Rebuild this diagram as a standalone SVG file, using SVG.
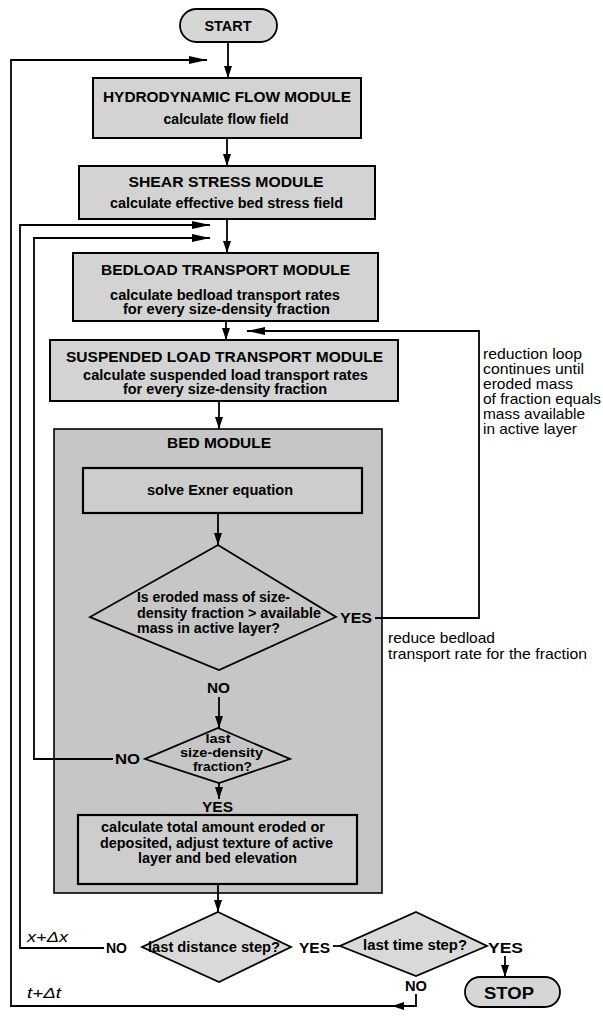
<svg xmlns="http://www.w3.org/2000/svg" width="603" height="1017" viewBox="0 0 603 1017">
<style>
.bx{fill:#d3d3d3;stroke:#000;stroke-width:2}
.bed{fill:#c6c6c6;stroke:#000;stroke-width:1.6}
.inb{fill:#cdcdcd;stroke:#000;stroke-width:2.2}
.dm{fill:#c6c6c6;stroke:#000;stroke-width:1.8}
.dmo{fill:#d9d9d9;stroke:#000;stroke-width:1.8}
.pill{fill:#d6d6d6;stroke:#000;stroke-width:1.8}
.c{fill:none;stroke:#000;stroke-width:1.8}
text{font-family:"Liberation Sans",Arial,Helvetica,sans-serif;fill:#000}
.t{font-weight:bold;font-size:15px;text-anchor:middle}
.s{font-weight:bold;font-size:14px;text-anchor:middle}
.d{font-weight:bold;font-size:12.5px;text-anchor:middle}
.l{font-weight:bold;font-size:14px}
.n{font-size:14.5px}
.i{font-style:italic;font-size:15px}
</style>
<defs>
<marker id="ah" viewBox="0 0 12 8" refX="12" refY="4" markerWidth="12" markerHeight="8" markerUnits="userSpaceOnUse" orient="auto">
<path d="M0,0 L12,4 L0,8 Z" fill="#000"/>
</marker>
<marker id="ahl" viewBox="0 0 18 8" refX="18" refY="4" markerWidth="18" markerHeight="8" markerUnits="userSpaceOnUse" orient="auto">
<path d="M0,0 L18,4 L0,8 Z" fill="#000"/>
</marker>
</defs>

<g id="start">
<rect class="pill" x="180" y="9" width="97" height="33" rx="16.5"/>
<text class="t" x="228" y="31" textLength="47" lengthAdjust="spacingAndGlyphs">START</text>
</g>

<g id="hydro">
<rect class="bx" x="93" y="78" width="268" height="60"/>
<text class="t" x="227" y="102" textLength="248" lengthAdjust="spacingAndGlyphs">HYDRODYNAMIC FLOW MODULE</text>
<text class="s" x="226" y="124" textLength="125" lengthAdjust="spacingAndGlyphs">calculate flow field</text>
</g>

<g id="shear">
<rect class="bx" x="79" y="166" width="296" height="53"/>
<text class="t" x="226" y="187" textLength="195" lengthAdjust="spacingAndGlyphs">SHEAR STRESS MODULE</text>
<text class="s" x="226.5" y="208" textLength="233" lengthAdjust="spacingAndGlyphs">calculate effective bed stress field</text>
</g>

<g id="bedload">
<rect class="bx" x="73" y="253" width="305" height="68"/>
<text class="t" x="225.5" y="275" textLength="249" lengthAdjust="spacingAndGlyphs">BEDLOAD TRANSPORT MODULE</text>
<text class="s" x="225" y="300" textLength="230" lengthAdjust="spacingAndGlyphs">calculate bedload transport rates</text>
<text class="s" x="226.5" y="314" textLength="207" lengthAdjust="spacingAndGlyphs">for every size-density fraction</text>
</g>

<g id="suspended">
<rect class="bx" x="50" y="340" width="348" height="61"/>
<text class="t" x="224.5" y="362" textLength="317" lengthAdjust="spacingAndGlyphs">SUSPENDED LOAD TRANSPORT MODULE</text>
<text class="s" x="225.5" y="380" textLength="285" lengthAdjust="spacingAndGlyphs">calculate suspended load transport rates</text>
<text class="s" x="225" y="394" textLength="204" lengthAdjust="spacingAndGlyphs">for every size-density fraction</text>
</g>

<g id="bedmodule">
<rect class="bed" x="54" y="429" width="328" height="464"/>
<text class="t" x="219" y="448" textLength="104" lengthAdjust="spacingAndGlyphs">BED MODULE</text>
</g>

<g id="exner">
<rect class="inb" x="83" y="468" width="279" height="45"/>
<text class="s" x="220" y="495" textLength="146" lengthAdjust="spacingAndGlyphs">solve Exner equation</text>
</g>

<g id="decision-eroded">
<polygon class="dm" points="218,545 336,617 219,670 90,617"/>
<text class="l" x="137" y="602" textLength="153" lengthAdjust="spacingAndGlyphs">Is eroded mass of size-</text>
<text class="l" x="137" y="618" textLength="184" lengthAdjust="spacingAndGlyphs">density fraction &gt; available</text>
<text class="l" x="137" y="633" textLength="143" lengthAdjust="spacingAndGlyphs">mass in active layer?</text>
</g>

<g id="decision-last-fraction">
<polygon class="dm" points="218,728 290,759 219,783 145,759"/>
<text class="d" x="218" y="743" textLength="25" lengthAdjust="spacingAndGlyphs">last</text>
<text class="d" x="221.5" y="757" textLength="83" lengthAdjust="spacingAndGlyphs">size-density</text>
<text class="d" x="222.5" y="771" textLength="59" lengthAdjust="spacingAndGlyphs">fraction?</text>
</g>

<g id="adjust">
<rect class="inb" x="78" y="815" width="279" height="69"/>
<text class="s" x="213" y="832" textLength="224" lengthAdjust="spacingAndGlyphs">calculate total amount eroded or</text>
<text class="s" x="216.5" y="848" textLength="233" lengthAdjust="spacingAndGlyphs">deposited, adjust texture of active</text>
<text class="s" x="217.5" y="863" textLength="159" lengthAdjust="spacingAndGlyphs">layer and bed elevation</text>
</g>

<g id="decision-distance">
<polygon class="dmo" points="218,912 291,947 219,982 142,947"/>
<text class="s" x="214" y="952" textLength="132" lengthAdjust="spacingAndGlyphs">last distance step?</text>
</g>

<g id="decision-time">
<polygon class="dmo" points="416,912 487,946 416,976 340,946"/>
<text class="s" x="415" y="950" textLength="104" lengthAdjust="spacingAndGlyphs">last time step?</text>
</g>

<g id="stop">
<rect class="pill" x="465" y="977" width="95" height="30" rx="15"/>
<text class="t" x="509" y="999" style="font-size:17px" textLength="50" lengthAdjust="spacingAndGlyphs">STOP</text>
</g>

<g id="connectors">
<line class="c" x1="228" y1="42" x2="228" y2="78" marker-end="url(#ah)"/>
<line class="c" x1="227" y1="138" x2="227" y2="166" marker-end="url(#ah)"/>
<line class="c" x1="227" y1="219" x2="227" y2="253" marker-end="url(#ah)"/>
<line class="c" x1="226" y1="321" x2="226" y2="340" marker-end="url(#ah)"/>
<line class="c" x1="219" y1="401" x2="219" y2="429" marker-end="url(#ah)"/>
<line class="c" x1="218" y1="513" x2="218" y2="545" marker-end="url(#ah)"/>
<line class="c" x1="219" y1="697" x2="219" y2="728" marker-end="url(#ah)"/>
<line class="c" x1="219" y1="783" x2="219" y2="799" marker-end="url(#ah)"/>
<line class="c" x1="218" y1="884" x2="218" y2="912" marker-end="url(#ah)"/>
<polyline class="c" points="375,618 479,618 479,331 247,331" marker-end="url(#ahl)"/>
<polyline class="c" points="113,759 34,759 34,238 210,238" marker-end="url(#ahl)"/>
<polyline class="c" points="104,948 20,948 20,225 210,225" marker-end="url(#ahl)"/>
<line class="c" x1="333" y1="946" x2="340" y2="946"/>
<line class="c" x1="505" y1="956" x2="505" y2="977" marker-end="url(#ah)"/>
<polyline class="c" points="416,994 416,1006 392,1006" marker-end="url(#ah)"/>
<polyline class="c" points="392,1006 11,1006 11,60 207,60" marker-end="url(#ahl)"/>
</g>

<g id="labels">
<text class="l" x="340" y="623" textLength="32" lengthAdjust="spacingAndGlyphs">YES</text>
<text class="l" x="207" y="693" textLength="23" lengthAdjust="spacingAndGlyphs">NO</text>
<text class="l" x="115" y="764" textLength="25" lengthAdjust="spacingAndGlyphs">NO</text>
<text class="l" x="202" y="812" textLength="31" lengthAdjust="spacingAndGlyphs">YES</text>
<text class="l" x="106" y="953" textLength="21" lengthAdjust="spacingAndGlyphs">NO</text>
<text class="l" x="299" y="953" textLength="31" lengthAdjust="spacingAndGlyphs">YES</text>
<text class="l" x="488" y="953" textLength="35" lengthAdjust="spacingAndGlyphs">YES</text>
<text class="l" x="405" y="991" textLength="22" lengthAdjust="spacingAndGlyphs">NO</text>
<text class="i" x="27" y="942" textLength="41" lengthAdjust="spacingAndGlyphs">x+Δx</text>
<text class="i" x="27" y="998" textLength="34" lengthAdjust="spacingAndGlyphs">t+Δt</text>
<text class="n" x="483" y="359" textLength="99" lengthAdjust="spacingAndGlyphs">reduction loop</text>
<text class="n" x="483" y="374" textLength="101" lengthAdjust="spacingAndGlyphs">continues until</text>
<text class="n" x="483" y="389" textLength="90" lengthAdjust="spacingAndGlyphs">eroded mass</text>
<text class="n" x="483" y="404" textLength="118" lengthAdjust="spacingAndGlyphs">of fraction equals</text>
<text class="n" x="483" y="419" textLength="102" lengthAdjust="spacingAndGlyphs">mass available</text>
<text class="n" x="483" y="434" textLength="94" lengthAdjust="spacingAndGlyphs">in active layer</text>
<text class="n" x="388" y="643" textLength="107" lengthAdjust="spacingAndGlyphs">reduce bedload</text>
<text class="n" x="388" y="659" textLength="199" lengthAdjust="spacingAndGlyphs">transport rate for the fraction</text>
</g>
</svg>
